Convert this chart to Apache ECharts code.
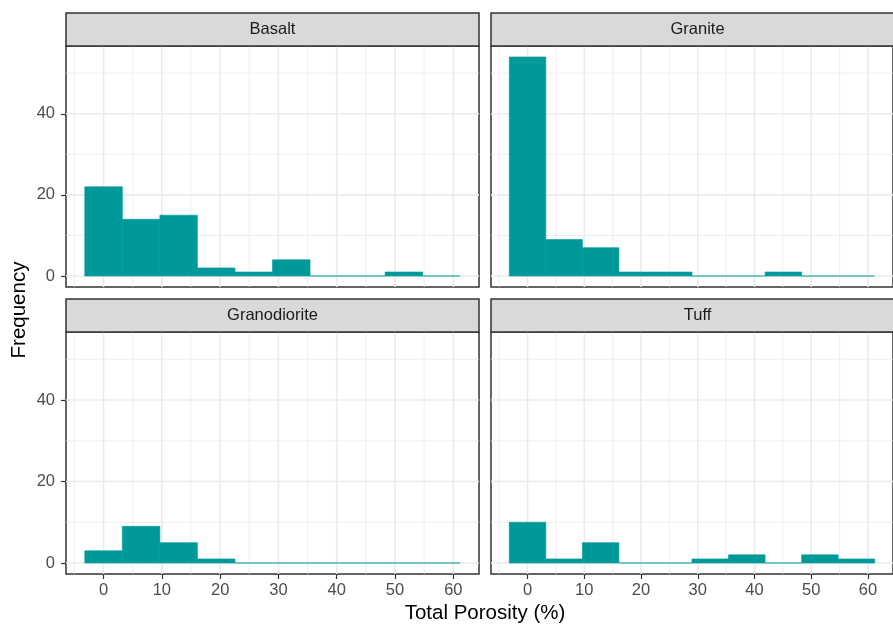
<!DOCTYPE html>
<html>
<head>
<meta charset="utf-8">
<script src="https://cdn.jsdelivr.net/npm/echarts@6/dist/echarts.min.js"></script>
<style>html,body{margin:0;padding:0;background:#fff;}#c{width:893px;height:625px;}</style>
</head>
<body>
<div id="c"></div>
<script>
const panelNames = ['Basalt', 'Granite', 'Granodiorite', 'Tuff'];
const binCenters = [0, 6.44, 12.88, 19.32, 25.76, 32.2, 38.64, 45.08, 51.52, 57.96];
const binWidth = 6.44;
const basaltCounts = [22, 14, 15, 2, 1, 4, 0, 0, 1, 0];
const graniteCounts = [54, 9, 7, 1, 1, 0, 0, 1, 0, 0];
const granodioriteCounts = [3, 9, 5, 1, 0, 0, 0, 0, 0, 0];
const tuffCounts = [10, 1, 5, 0, 0, 1, 2, 0, 2, 1];
const xTickLabels = [0, 10, 20, 30, 40, 50, 60];
const xMinorBreaks = [-5, 5, 15, 25, 35, 45, 55];
const yTickLabels = [0, 20, 40];
const yMinorBreaks = [10, 30, 50];
const xTitle = 'Total Porosity (%)';
const yTitle = 'Frequency';

const allCounts = [basaltCounts, graniteCounts, granodioriteCounts, tuffCounts];
const FILL = '#009999';
const FONT = '"Liberation Sans", Arial, Helvetica, sans-serif';
const X_MIN = -6.44, X_MAX = 64.4, Y_MIN = -2.7, Y_MAX = 56.7;

const layout = [
  {left: 66, top: 46, width: 413, height: 241},
  {left: 491, top: 46, width: 413, height: 241},
  {left: 66, top: 332, width: 413, height: 242},
  {left: 491, top: 332, width: 413, height: 242}
];
const STRIP_H = 33;

const grids = [], xAxes = [], yAxes = [], series = [], graphics = [];

layout.forEach((g, i) => {
  const isBottom = i >= 2, isLeft = i % 2 === 0;
  grids.push({left: g.left, top: g.top, width: g.width, height: g.height,
    show: true, borderColor: '#333333', borderWidth: 1.5, backgroundColor: '#ffffff', containLabel: false});
  xAxes.push({type: 'value', gridIndex: i, min: X_MIN, max: X_MAX, position: 'bottom',
    axisLine: {show: false, onZero: false},
    axisTick: {show: isBottom, customValues: xTickLabels, length: 5, lineStyle: {color: '#333333', width: 1.2}},
    axisLabel: {show: isBottom, customValues: xTickLabels, margin: 8, color: '#4D4D4D', fontSize: 16.5, fontFamily: FONT},
    splitLine: {show: false}});
  yAxes.push({type: 'value', gridIndex: i, min: Y_MIN, max: Y_MAX, position: 'left',
    axisLine: {show: false, onZero: false},
    axisTick: {show: isLeft, customValues: yTickLabels, length: 5, lineStyle: {color: '#333333', width: 1.2}},
    axisLabel: {show: isLeft, customValues: yTickLabels, margin: 11, color: '#4D4D4D', fontSize: 16.5, fontFamily: FONT},
    splitLine: {show: false}});

  // grid lines
  const lines = [];
  xMinorBreaks.forEach(v => lines.push([v, 0, 1]));
  yMinorBreaks.forEach(v => lines.push([0, v, 3]));
  xTickLabels.forEach(v => lines.push([v, 0, 0]));
  yTickLabels.forEach(v => lines.push([0, v, 2]));
  series.push({type: 'custom', xAxisIndex: i, yAxisIndex: i, silent: true, z: 1, clip: true,
    data: lines,
    renderItem: function (params, api) {
      const cs = params.coordSys;
      const kind = api.value(2);
      const major = kind === 0 || kind === 2;
      let shape;
      if (kind < 2) {
        const p = api.coord([api.value(0), 0]);
        shape = {x1: p[0], y1: cs.y, x2: p[0], y2: cs.y + cs.height};
      } else {
        const p = api.coord([0, api.value(1)]);
        shape = {x1: cs.x, y1: p[1], x2: cs.x + cs.width, y2: p[1]};
      }
      return {type: 'line', shape: shape,
        style: {stroke: '#EBEBEB', lineWidth: major ? 1.6 : 0.8}};
    }});

  // histogram bars
  series.push({type: 'custom', xAxisIndex: i, yAxisIndex: i, silent: true, z: 3,
    data: binCenters.map((c, k) => [c, allCounts[i][k]]),
    renderItem: function (params, api) {
      const c = api.value(0), n = api.value(1);
      const a = api.coord([c - binWidth / 2, n]);
      const b = api.coord([c + binWidth / 2, 0]);
      if (n === 0) {
        return {type: 'line', shape: {x1: a[0], y1: b[1], x2: b[0], y2: b[1]},
          style: {stroke: FILL, lineWidth: 1}};
      }
      return {type: 'rect', shape: {x: a[0], y: a[1], width: b[0] - a[0], height: b[1] - a[1]},
        style: {fill: FILL, stroke: FILL, lineWidth: 0.6}};
    }});

  // strip
  graphics.push({type: 'rect', shape: {x: g.left, y: g.top - STRIP_H, width: g.width, height: STRIP_H},
    style: {fill: '#D9D9D9', stroke: '#333333', lineWidth: 1.5}, z: 10});
  graphics.push({type: 'text', x: g.left + g.width / 2, y: g.top - STRIP_H / 2, z: 11,
    style: {text: panelNames[i], fill: '#1A1A1A', font: '16.5px ' + FONT,
      align: 'center', verticalAlign: 'middle', textAlign: 'center', textVerticalAlign: 'middle'}});
});

graphics.push({type: 'text', x: 485, y: 613, z: 11,
  style: {text: xTitle, fill: '#000000', font: '20.5px ' + FONT,
    align: 'center', verticalAlign: 'middle', textAlign: 'center', textVerticalAlign: 'middle'}});
graphics.push({type: 'text', x: 19, y: 310, rotation: Math.PI / 2, z: 11,
  style: {text: yTitle, fill: '#000000', font: '20.5px ' + FONT,
    align: 'center', verticalAlign: 'middle', textAlign: 'center', textVerticalAlign: 'middle'}});

const chart = echarts.init(document.getElementById('c'), null, {renderer: 'canvas'});
chart.setOption({
  backgroundColor: '#ffffff',
  animation: false,
  grid: grids, xAxis: xAxes, yAxis: yAxes, series: series, graphic: graphics
});
</script>
</body>
</html>
